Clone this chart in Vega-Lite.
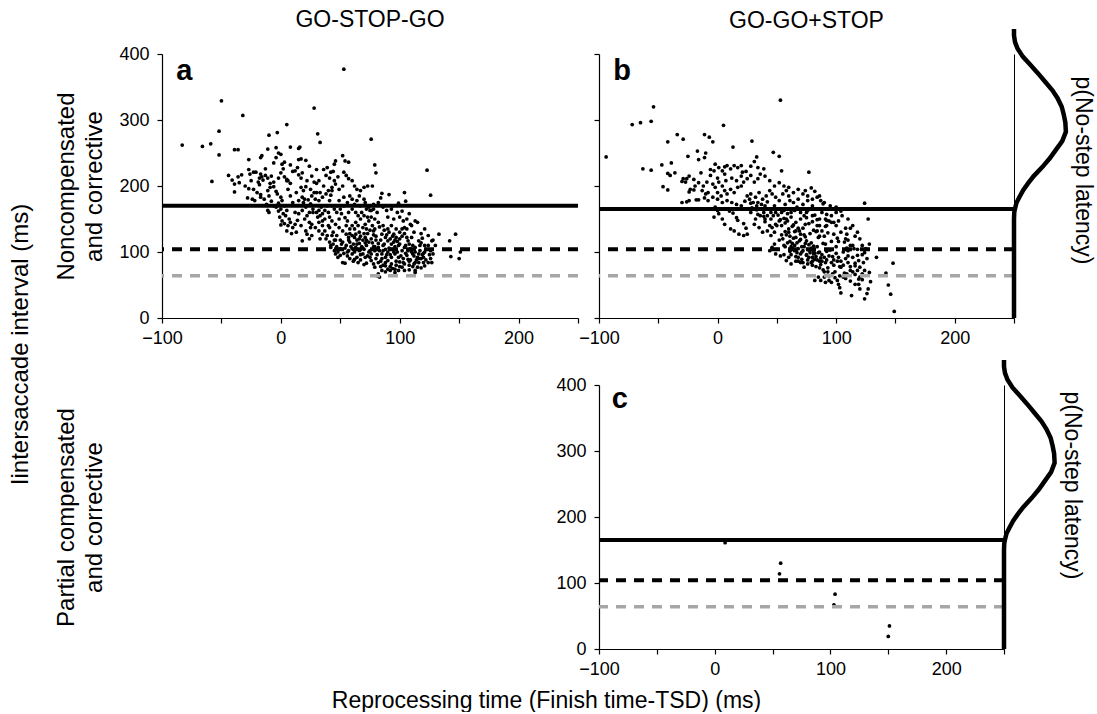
{
"$schema":"https://vega.github.io/schema/vega-lite/v6.json",
"autosize":{"type":"pad"},
"padding":{"left":8,"top":9,"right":2,"bottom":0},
"background":"white",
"title":{"text":"Iintersaccade interval (ms)","orient":"left","anchor":"middle","offset":22,"dx":16,"fontSize":24,"fontWeight":"normal"},
"config":{"view":{"stroke":null},"font":"Liberation Sans",
"title":{"font":"Liberation Sans","fontSize":23,"fontWeight":"normal","color":"black","offset":13},
"axis":{"domainColor":"black","domainWidth":1.2,"tickColor":"black","tickWidth":1.2,"tickSize":5,"labelFont":"Liberation Sans","labelFontSize":18,"labelColor":"black","titleFont":"Liberation Sans","titleFontSize":24,"titleFontWeight":"normal","titleColor":"black","grid":false,"labelFlush":false}},
"datasets":{
"a":[{"x":-83,"y":262},{"x":-66,"y":260},{"x":-59,"y":264},{"x":-50,"y":329},{"x":-52,"y":283},{"x":-52,"y":247},{"x":-58,"y":207},{"x":-32,"y":307},{"x":-39,"y":255},{"x":-36,"y":255},{"x":-44,"y":216},{"x":-41,"y":209},{"x":-39,"y":203},{"x":-36,"y":214},{"x":-33,"y":217},{"x":-39,"y":191},{"x":-27,"y":240},{"x":-27,"y":225},{"x":-26,"y":218},{"x":-23,"y":221},{"x":-21,"y":221},{"x":-27,"y":196},{"x":-25,"y":208},{"x":-18,"y":212},{"x":-28,"y":182},{"x":-24,"y":180},{"x":-22,"y":178},{"x":-17,"y":243},{"x":-16,"y":246},{"x":-11,"y":256},{"x":-10,"y":277},{"x":-3,"y":281},{"x":5,"y":293},{"x":-4,"y":258},{"x":-2,"y":250},{"x":-6,"y":235},{"x":-4,"y":243},{"x":-17,"y":218},{"x":-16,"y":214},{"x":-13,"y":216},{"x":-11,"y":212},{"x":-9,"y":204},{"x":-19,"y":206},{"x":-18,"y":202},{"x":-15,"y":209},{"x":-11,"y":193},{"x":-9,"y":198},{"x":-6,"y":199},{"x":-10,"y":185},{"x":-4,"y":192},{"x":-17,"y":187},{"x":-17,"y":183},{"x":-11,"y":163},{"x":-10,"y":160},{"x":0,"y":248},{"x":3,"y":236},{"x":1,"y":233},{"x":8,"y":259},{"x":15,"y":257},{"x":16,"y":259},{"x":15,"y":240},{"x":17,"y":241},{"x":21,"y":239},{"x":10,"y":222},{"x":12,"y":223},{"x":15,"y":217},{"x":17,"y":212},{"x":5,"y":210},{"x":6,"y":208},{"x":8,"y":204},{"x":0,"y":220},{"x":3,"y":214},{"x":5,"y":208},{"x":-3,"y":188},{"x":0,"y":183},{"x":1,"y":178},{"x":-2,"y":174},{"x":-4,"y":168},{"x":0,"y":165},{"x":3,"y":170},{"x":5,"y":163},{"x":-1,"y":153},{"x":1,"y":147},{"x":4,"y":155},{"x":7,"y":150},{"x":0,"y":141},{"x":3,"y":143},{"x":5,"y":132},{"x":8,"y":145},{"x":10,"y":137},{"x":12,"y":142},{"x":14,"y":148},{"x":12,"y":160},{"x":15,"y":158},{"x":18,"y":163},{"x":21,"y":168},{"x":15,"y":178},{"x":18,"y":183},{"x":19,"y":175},{"x":23,"y":179},{"x":25,"y":173},{"x":17,"y":198},{"x":19,"y":193},{"x":21,"y":199},{"x":25,"y":195},{"x":28,"y":190},{"x":24,"y":230},{"x":28,"y":318},{"x":31,"y":279},{"x":33,"y":266},{"x":28,"y":206},{"x":30,"y":204},{"x":32,"y":208},{"x":18,"y":117},{"x":22,"y":127},{"x":24,"y":120},{"x":26,"y":125},{"x":26,"y":142},{"x":29,"y":137},{"x":32,"y":145},{"x":31,"y":153},{"x":35,"y":158},{"x":37,"y":163},{"x":39,"y":170},{"x":41,"y":178},{"x":35,"y":183},{"x":38,"y":188},{"x":40,"y":193},{"x":43,"y":198},{"x":45,"y":208},{"x":32,"y":178},{"x":34,"y":168},{"x":32,"y":163},{"x":38,"y":216},{"x":41,"y":212},{"x":42,"y":221},{"x":39,"y":228},{"x":46,"y":238},{"x":45,"y":233},{"x":52,"y":246},{"x":54,"y":238},{"x":57,"y":236},{"x":53,"y":377},{"x":53,"y":221},{"x":55,"y":216},{"x":57,"y":211},{"x":60,"y":208},{"x":62,"y":200},{"x":64,"y":195},{"x":67,"y":193},{"x":70,"y":198},{"x":73,"y":200},{"x":46,"y":203},{"x":49,"y":195},{"x":52,"y":200},{"x":43,"y":193},{"x":49,"y":178},{"x":53,"y":183},{"x":56,"y":175},{"x":60,"y":180},{"x":64,"y":178},{"x":67,"y":170},{"x":71,"y":175},{"x":74,"y":168},{"x":76,"y":163},{"x":41,"y":153},{"x":43,"y":147},{"x":46,"y":142},{"x":49,"y":137},{"x":41,"y":137},{"x":52,"y":132},{"x":55,"y":127},{"x":57,"y":122},{"x":60,"y":125},{"x":63,"y":127},{"x":66,"y":130},{"x":69,"y":137},{"x":71,"y":142},{"x":74,"y":147},{"x":73,"y":153},{"x":70,"y":155},{"x":67,"y":150},{"x":52,"y":115},{"x":55,"y":110},{"x":57,"y":102},{"x":60,"y":97},{"x":63,"y":107},{"x":66,"y":102},{"x":69,"y":97},{"x":71,"y":92},{"x":74,"y":100},{"x":76,"y":87},{"x":48,"y":92},{"x":52,"y":84},{"x":54,"y":83},{"x":62,"y":89},{"x":70,"y":81},{"x":72,"y":83},{"x":38,"y":120},{"x":41,"y":115},{"x":42,"y":107},{"x":45,"y":102},{"x":46,"y":97},{"x":35,"y":127},{"x":32,"y":132},{"x":33,"y":120},{"x":25,"y":137},{"x":21,"y":132},{"x":24,"y":145},{"x":76,"y":271},{"x":79,"y":232},{"x":80,"y":220},{"x":77,"y":200},{"x":123,"y":224},{"x":126,"y":186},{"x":85,"y":189},{"x":91,"y":187},{"x":104,"y":190},{"x":84,"y":182},{"x":105,"y":177},{"x":99,"y":174},{"x":75,"y":163},{"x":78,"y":165},{"x":76,"y":153},{"x":81,"y":160},{"x":79,"y":150},{"x":82,"y":145},{"x":89,"y":163},{"x":93,"y":165},{"x":90,"y":153},{"x":95,"y":150},{"x":100,"y":153},{"x":103,"y":147},{"x":106,"y":150},{"x":109,"y":142},{"x":113,"y":147},{"x":115,"y":145},{"x":102,"y":135},{"x":104,"y":137},{"x":121,"y":135},{"x":133,"y":127},{"x":147,"y":127},{"x":142,"y":117},{"x":143,"y":93},{"x":150,"y":90},{"x":151,"y":100},{"x":124,"y":125},{"x":127,"y":117},{"x":121,"y":110},{"x":126,"y":102},{"x":128,"y":97},{"x":116,"y":117},{"x":118,"y":114},{"x":113,"y":107},{"x":116,"y":97},{"x":120,"y":92},{"x":110,"y":122},{"x":107,"y":117},{"x":109,"y":105},{"x":111,"y":97},{"x":107,"y":89},{"x":113,"y":84},{"x":124,"y":84},{"x":127,"y":84},{"x":121,"y":79},{"x":115,"y":77},{"x":102,"y":77},{"x":104,"y":82},{"x":99,"y":72},{"x":96,"y":69},{"x":90,"y":74},{"x":88,"y":79},{"x":85,"y":72},{"x":82,"y":67},{"x":79,"y":77},{"x":96,"y":97},{"x":99,"y":92},{"x":102,"y":102},{"x":104,"y":107},{"x":100,"y":112},{"x":85,"y":127},{"x":88,"y":122},{"x":90,"y":117},{"x":93,"y":112},{"x":82,"y":107},{"x":79,"y":102},{"x":76,"y":97},{"x":75,"y":92},{"x":85,"y":97},{"x":88,"y":92},{"x":90,"y":87},{"x":93,"y":82},{"x":82,"y":84},{"x":78,"y":82},{"x":86,"y":140},{"x":90,"y":135},{"x":95,"y":127},{"x":97,"y":122},{"x":81,"y":64},{"x":83,"y":62},{"x":113,"y":69},{"x":113,"y":72},{"x":108,"y":73},{"x":118,"y":76},{"x":35,"y":140},{"x":37,"y":132},{"x":39,"y":125},{"x":44,"y":130},{"x":47,"y":125},{"x":50,"y":118},{"x":44,"y":112},{"x":47,"y":108},{"x":50,"y":105},{"x":53,"y":98},{"x":56,"y":94},{"x":58,"y":90},{"x":61,"y":86},{"x":64,"y":92},{"x":65,"y":84},{"x":67,"y":88},{"x":58,"y":115},{"x":61,"y":112},{"x":64,"y":118},{"x":66,"y":113},{"x":68,"y":108},{"x":70,"y":104},{"x":72,"y":110},{"x":74,"y":115},{"x":76,"y":120},{"x":78,"y":126},{"x":80,"y":118},{"x":82,"y":113},{"x":84,"y":118},{"x":86,"y":110},{"x":88,"y":104},{"x":90,"y":100},{"x":92,"y":96},{"x":94,"y":104},{"x":96,"y":108},{"x":98,"y":116},{"x":100,"y":120},{"x":102,"y":124},{"x":104,"y":128},{"x":106,"y":122},{"x":108,"y":112},{"x":110,"y":100},{"x":112,"y":94},{"x":114,"y":88},{"x":116,"y":84},{"x":118,"y":90},{"x":120,"y":98},{"x":122,"y":104},{"x":124,"y":110},{"x":126,"y":90},{"x":80,"y":90},{"x":84,"y":86},{"x":86,"y":80},{"x":88,"y":84},{"x":92,"y":78},{"x":94,"y":75},{"x":97,"y":80},{"x":100,"y":85},{"x":103,"y":90},{"x":106,"y":95},{"x":108,"y":80},{"x":111,"y":78},{"x":117,"y":102},{"x":119,"y":121},{"x":97,"y":135},{"x":93,"y":140},{"x":91,"y":130},{"x":87,"y":133},{"x":83,"y":138},{"x":79,"y":135},{"x":77,"y":140},{"x":75,"y":133},{"x":73,"y":128},{"x":71,"y":122},{"x":69,"y":118},{"x":67,"y":124},{"x":65,"y":140},{"x":63,"y":145},{"x":60,"y":140},{"x":58,"y":135},{"x":56,"y":147},{"x":54,"y":152},{"x":51,"y":158},{"x":49,"y":150},{"x":47,"y":160},{"x":45,"y":165},{"x":43,"y":170},{"x":40,"y":160},{"x":37,"y":150},{"x":35,"y":147},{"x":33,"y":155},{"x":30,"y":160},{"x":27,"y":165},{"x":24,"y":160},{"x":22,"y":155},{"x":20,"y":150},{"x":17,"y":140},{"x":13,"y":130},{"x":9,"y":128},{"x":6,"y":140},{"x":2,"y":158},{"x":-2,"y":162},{"x":-6,"y":170},{"x":-8,"y":177},{"x":-12,"y":172},{"x":-14,"y":180},{"x":-20,"y":190},{"x":-23,"y":195},{"x":-30,"y":200},{"x":-35,"y":205},{"x":10,"y":175},{"x":8,"y":185},{"x":6,"y":195},{"x":13,"y":190},{"x":20,"y":180},{"x":26,"y":185},{"x":29,"y":180},{"x":33,"y":190},{"x":36,"y":200},{"x":42,"y":186},{"x":47,"y":170},{"x":50,"y":165},{"x":53,"y":170},{"x":57,"y":160},{"x":60,"y":165},{"x":63,"y":160},{"x":65,"y":155},{"x":68,"y":160},{"x":72,"y":165},{"x":78,"y":172},{"x":82,"y":175},{"x":86,"y":168},{"x":94,"y":170},{"x":98,"y":160},{"x":102,"y":162},{"x":108,"y":158},{"x":62,"y":172},{"x":58,"y":185},{"x":66,"y":185},{"x":70,"y":180},{"x":48,"y":214},{"x":44,"y":222},{"x":36,"y":225},{"x":30,"y":225},{"x":26,"y":215},{"x":22,"y":208},{"x":18,"y":220},{"x":14,"y":228},{"x":8,"y":232},{"x":2,"y":226},{"x":-2,"y":212},{"x":-6,"y":206},{"x":-8,"y":215},{"x":-13,"y":226},{"x":30,"y":190},{"x":27,"y":160},{"x":40,"y":140},{"x":55,"y":140},{"x":62,"y":135},{"x":72,"y":135},{"x":78,"y":108},{"x":92,"y":120},{"x":95,"y":115},{"x":98,"y":100},{"x":105,"y":98},{"x":125,"y":96},{"x":130,"y":110},{"x":128,"y":118},{"x":112,"y":130},{"x":118,"y":128},{"x":122,"y":88},{"x":42,"y":110},{"x":45,"y":118},{"x":48,"y":100},{"x":51,"y":112},{"x":54,"y":106},{"x":57,"y":118},{"x":59,"y":108},{"x":62,"y":100},{"x":64,"y":112},{"x":67,"y":96},{"x":69,"y":106},{"x":71,"y":114},{"x":73,"y":94},{"x":75,"y":102},{"x":77,"y":114},{"x":79,"y":108},{"x":81,"y":96},{"x":83,"y":102},{"x":85,"y":90},{"x":87,"y":112},{"x":89,"y":96},{"x":91,"y":106},{"x":93,"y":92},{"x":95,"y":100},{"x":97,"y":86},{"x":99,"y":110},{"x":101,"y":94},{"x":103,"y":84},{"x":105,"y":110},{"x":107,"y":102},{"x":109,"y":88},{"x":111,"y":110},{"x":113,"y":100},{"x":115,"y":92},{"x":117,"y":110},{"x":119,"y":96},{"x":121,"y":100},{"x":84,"y":78},{"x":88,"y":70},{"x":92,"y":72},{"x":96,"y":74},{"x":100,"y":78},{"x":104,"y":72},{"x":108,"y":86},{"x":112,"y":82},{"x":116,"y":90},{"x":120,"y":84},{"x":86,"y":102},{"x":80,"y":124},{"x":72,"y":118},{"x":66,"y":120},{"x":60,"y":105},{"x":56,"y":100},{"x":50,"y":95},{"x":46,"y":118},{"x":43,"y":125},{"x":58,"y":128},{"x":62,"y":122},{"x":70,"y":128},{"x":78,"y":132},{"x":94,"y":124},{"x":100,"y":130},{"x":106,"y":135},{"x":110,"y":140},{"x":96,"y":118},{"x":89,"y":126}],
"b":[{"x":-94,"y":244},{"x":-72,"y":293},{"x":-65,"y":296},{"x":-56,"y":298},{"x":-54,"y":320},{"x":-63,"y":226},{"x":-56,"y":224},{"x":-47,"y":232},{"x":-39,"y":235},{"x":-42,"y":267},{"x":-34,"y":278},{"x":-29,"y":271},{"x":-42,"y":219},{"x":-40,"y":216},{"x":-36,"y":220},{"x":-46,"y":199},{"x":-42,"y":194},{"x":-29,"y":211},{"x":-27,"y":206},{"x":-30,"y":207},{"x":-25,"y":245},{"x":-17,"y":253},{"x":-16,"y":240},{"x":-10,"y":250},{"x":-11,"y":243},{"x":-11,"y":278},{"x":-7,"y":274},{"x":-4,"y":267},{"x":5,"y":292},{"x":13,"y":259},{"x":29,"y":268},{"x":33,"y":244},{"x":31,"y":237},{"x":47,"y":251},{"x":52,"y":245},{"x":53,"y":330},{"x":54,"y":223},{"x":-26,"y":211},{"x":-23,"y":195},{"x":-24,"y":191},{"x":-19,"y":200},{"x":-20,"y":194},{"x":-30,"y":175},{"x":-26,"y":176},{"x":-24,"y":178},{"x":-18,"y":179},{"x":-16,"y":179},{"x":-13,"y":193},{"x":-10,"y":188},{"x":-11,"y":182},{"x":-8,"y":178},{"x":-9,"y":206},{"x":-6,"y":216},{"x":-3,"y":223},{"x":-2,"y":233},{"x":1,"y":228},{"x":4,"y":223},{"x":6,"y":229},{"x":8,"y":231},{"x":11,"y":226},{"x":14,"y":231},{"x":17,"y":228},{"x":20,"y":231},{"x":21,"y":221},{"x":-4,"y":203},{"x":-2,"y":198},{"x":1,"y":206},{"x":4,"y":200},{"x":7,"y":208},{"x":0,"y":190},{"x":3,"y":185},{"x":6,"y":193},{"x":8,"y":188},{"x":11,"y":195},{"x":14,"y":190},{"x":17,"y":198},{"x":20,"y":200},{"x":22,"y":206},{"x":25,"y":211},{"x":28,"y":216},{"x":31,"y":206},{"x":34,"y":211},{"x":36,"y":218},{"x":39,"y":226},{"x":-2,"y":168},{"x":0,"y":163},{"x":1,"y":158},{"x":-3,"y":153},{"x":4,"y":150},{"x":6,"y":142},{"x":10,"y":162},{"x":13,"y":159},{"x":16,"y":152},{"x":17,"y":148},{"x":22,"y":143},{"x":24,"y":136},{"x":17,"y":165},{"x":11,"y":135},{"x":14,"y":132},{"x":18,"y":127},{"x":22,"y":125},{"x":25,"y":127},{"x":23,"y":177},{"x":28,"y":174},{"x":29,"y":167},{"x":33,"y":164},{"x":34,"y":157},{"x":39,"y":154},{"x":40,"y":146},{"x":28,"y":188},{"x":32,"y":183},{"x":35,"y":190},{"x":41,"y":185},{"x":44,"y":193},{"x":46,"y":188},{"x":49,"y":183},{"x":52,"y":178},{"x":55,"y":188},{"x":58,"y":193},{"x":60,"y":198},{"x":31,"y":142},{"x":35,"y":137},{"x":38,"y":130},{"x":42,"y":132},{"x":45,"y":125},{"x":46,"y":137},{"x":49,"y":142},{"x":52,"y":147},{"x":56,"y":163},{"x":59,"y":158},{"x":62,"y":153},{"x":65,"y":163},{"x":67,"y":168},{"x":70,"y":160},{"x":73,"y":155},{"x":76,"y":163},{"x":52,"y":118},{"x":56,"y":110},{"x":57,"y":108},{"x":61,"y":101},{"x":62,"y":96},{"x":66,"y":93},{"x":68,"y":86},{"x":72,"y":84},{"x":46,"y":107},{"x":49,"y":97},{"x":44,"y":102},{"x":73,"y":77},{"x":76,"y":82},{"x":58,"y":87},{"x":62,"y":82},{"x":53,"y":94},{"x":77,"y":221},{"x":74,"y":193},{"x":79,"y":197},{"x":82,"y":192},{"x":84,"y":183},{"x":87,"y":178},{"x":89,"y":173},{"x":124,"y":174},{"x":127,"y":150},{"x":105,"y":155},{"x":102,"y":147},{"x":98,"y":145},{"x":94,"y":147},{"x":91,"y":150},{"x":108,"y":136},{"x":112,"y":136},{"x":116,"y":124},{"x":109,"y":127},{"x":134,"y":92},{"x":148,"y":83},{"x":142,"y":68},{"x":144,"y":50},{"x":146,"y":36},{"x":149,"y":10},{"x":124,"y":29},{"x":126,"y":37},{"x":127,"y":44},{"x":120,"y":44},{"x":119,"y":51},{"x":113,"y":34},{"x":104,"y":38},{"x":103,"y":46},{"x":102,"y":51},{"x":116,"y":51},{"x":119,"y":59},{"x":122,"y":67},{"x":124,"y":72},{"x":128,"y":69},{"x":129,"y":55},{"x":109,"y":67},{"x":112,"y":72},{"x":106,"y":62},{"x":101,"y":57},{"x":96,"y":54},{"x":94,"y":57},{"x":91,"y":54},{"x":87,"y":57},{"x":82,"y":57},{"x":85,"y":62},{"x":110,"y":102},{"x":115,"y":105},{"x":119,"y":87},{"x":123,"y":84},{"x":120,"y":77},{"x":124,"y":99},{"x":116,"y":79},{"x":77,"y":143},{"x":81,"y":133},{"x":83,"y":131},{"x":85,"y":122},{"x":86,"y":124},{"x":89,"y":113},{"x":91,"y":112},{"x":92,"y":101},{"x":95,"y":103},{"x":97,"y":93},{"x":98,"y":88},{"x":101,"y":86},{"x":103,"y":78},{"x":104,"y":77},{"x":107,"y":68},{"x":75,"y":152},{"x":80,"y":146},{"x":84,"y":149},{"x":86,"y":140},{"x":91,"y":139},{"x":93,"y":129},{"x":98,"y":127},{"x":101,"y":121},{"x":102,"y":116},{"x":107,"y":115},{"x":109,"y":106},{"x":110,"y":94},{"x":114,"y":92},{"x":116,"y":83},{"x":74,"y":123},{"x":79,"y":114},{"x":81,"y":109},{"x":81,"y":101},{"x":85,"y":99},{"x":87,"y":91},{"x":88,"y":86},{"x":91,"y":84},{"x":93,"y":76},{"x":93,"y":70},{"x":97,"y":67},{"x":99,"y":61},{"x":69,"y":132},{"x":73,"y":126},{"x":75,"y":117},{"x":77,"y":111},{"x":77,"y":103},{"x":81,"y":97},{"x":83,"y":93},{"x":84,"y":88},{"x":87,"y":81},{"x":89,"y":73},{"x":90,"y":70},{"x":64,"y":141},{"x":68,"y":136},{"x":70,"y":127},{"x":70,"y":119},{"x":74,"y":113},{"x":76,"y":104},{"x":78,"y":99},{"x":80,"y":92},{"x":82,"y":89},{"x":83,"y":78},{"x":86,"y":76},{"x":59,"y":147},{"x":63,"y":139},{"x":65,"y":131},{"x":66,"y":122},{"x":69,"y":117},{"x":71,"y":108},{"x":72,"y":102},{"x":75,"y":95},{"x":76,"y":88},{"x":79,"y":84},{"x":80,"y":80},{"x":56,"y":151},{"x":57,"y":144},{"x":60,"y":135},{"x":61,"y":124},{"x":64,"y":121},{"x":65,"y":110},{"x":68,"y":105},{"x":70,"y":97},{"x":71,"y":89},{"x":51,"y":156},{"x":53,"y":149},{"x":54,"y":140},{"x":57,"y":131},{"x":58,"y":126},{"x":61,"y":116},{"x":63,"y":113},{"x":63,"y":106},{"x":67,"y":99},{"x":68,"y":92},{"x":45,"y":160},{"x":47,"y":155},{"x":49,"y":160},{"x":43,"y":165},{"x":40,"y":170},{"x":37,"y":172},{"x":33,"y":170},{"x":30,"y":175},{"x":27,"y":180},{"x":25,"y":185},{"x":45,"y":150},{"x":42,"y":155},{"x":39,"y":160},{"x":36,"y":165},{"x":34,"y":175},{"x":38,"y":180},{"x":42,"y":176},{"x":48,"y":170},{"x":53,"y":165},{"x":57,"y":172},{"x":61,"y":178},{"x":64,"y":175},{"x":68,"y":180},{"x":72,"y":172},{"x":76,"y":178},{"x":80,"y":170},{"x":85,"y":165},{"x":88,"y":160},{"x":92,"y":157},{"x":96,"y":155},{"x":100,"y":160},{"x":104,"y":162},{"x":110,"y":150},{"x":114,"y":140},{"x":118,"y":130},{"x":120,"y":120},{"x":122,"y":110},{"x":125,"y":105},{"x":128,"y":112},{"x":126,"y":90},{"x":118,"y":95},{"x":112,"y":110},{"x":108,"y":120},{"x":104,"y":130},{"x":100,"y":140},{"x":96,"y":145},{"x":92,"y":140},{"x":88,"y":132},{"x":84,"y":140},{"x":80,"y":155},{"x":75,"y":160},{"x":70,"y":150},{"x":66,"y":145},{"x":62,"y":160},{"x":58,"y":150},{"x":54,"y":160},{"x":50,"y":140},{"x":48,"y":130},{"x":44,"y":140},{"x":40,"y":150},{"x":36,"y":155},{"x":32,"y":150},{"x":28,"y":160},{"x":24,"y":165},{"x":20,"y":170},{"x":16,"y":172},{"x":12,"y":175},{"x":8,"y":178},{"x":4,"y":175},{"x":0,"y":180},{"x":-4,"y":183},{"x":-8,"y":190},{"x":-12,"y":200},{"x":-16,"y":205},{"x":-20,"y":210},{"x":-24,"y":215},{"x":-14,"y":220},{"x":-6,"y":225},{"x":0,"y":212},{"x":6,"y":218},{"x":12,"y":212},{"x":16,"y":208},{"x":20,"y":215},{"x":24,"y":222},{"x":28,"y":230},{"x":34,"y":228},{"x":40,"y":215},{"x":44,"y":208},{"x":48,"y":200},{"x":52,"y":205},{"x":56,"y":200},{"x":60,"y":185},{"x":64,"y":190},{"x":68,"y":195},{"x":72,"y":188},{"x":76,"y":185},{"x":80,"y":180},{"x":86,"y":185},{"x":90,"y":175},{"x":95,"y":170},{"x":100,"y":168},{"x":105,"y":165},{"x":55,"y":120},{"x":59,"y":114},{"x":62,"y":108},{"x":65,"y":102},{"x":67,"y":114},{"x":71,"y":100},{"x":73,"y":108},{"x":75,"y":96},{"x":77,"y":92},{"x":79,"y":106},{"x":82,"y":98},{"x":84,"y":108},{"x":86,"y":100},{"x":88,"y":96},{"x":90,"y":92},{"x":92,"y":88},{"x":94,"y":94},{"x":96,"y":84},{"x":98,"y":80},{"x":100,"y":98},{"x":102,"y":92},{"x":104,"y":86},{"x":106,"y":80},{"x":108,"y":90},{"x":110,"y":84},{"x":112,"y":78},{"x":114,"y":70},{"x":116,"y":66},{"x":118,"y":72},{"x":120,"y":62},{"x":122,"y":58},{"x":90,"y":62},{"x":94,"y":64},{"x":99,"y":70},{"x":103,"y":64},{"x":108,"y":60},{"x":112,"y":56},{"x":86,"y":86},{"x":80,"y":86},{"x":70,"y":84},{"x":66,"y":86},{"x":60,"y":92},{"x":56,"y":96},{"x":50,"y":104},{"x":48,"y":112},{"x":54,"y":126},{"x":60,"y":130},{"x":66,"y":132},{"x":72,"y":136},{"x":78,"y":128},{"x":84,"y":132},{"x":90,"y":124},{"x":96,"y":116},{"x":100,"y":108},{"x":106,"y":100},{"x":110,"y":118},{"x":114,"y":110},{"x":118,"y":104},{"x":122,"y":96},{"x":86,"y":150},{"x":92,"y":148},{"x":82,"y":156},{"x":74,"y":142}],
"c":[{"x":9,"y":161},{"x":57,"y":130},{"x":56,"y":114},{"x":104,"y":83},{"x":103,"y":67},{"x":151,"y":35},{"x":150,"y":19}],
"dens":[{"lat":0,"d":0},{"lat":150,"d":0},{"lat":160,"d":0.005},{"lat":166,"d":0.02},{"lat":175,"d":0.05},{"lat":184,"d":0.11},{"lat":194,"d":0.18},{"lat":204,"d":0.27},{"lat":215,"d":0.38},{"lat":229,"d":0.55},{"lat":242,"d":0.69},{"lat":254,"d":0.8},{"lat":268,"d":0.93},{"lat":282,"d":1.0},{"lat":296,"d":0.99},{"lat":308,"d":0.96},{"lat":320,"d":0.92},{"lat":333,"d":0.84},{"lat":345,"d":0.74},{"lat":358,"d":0.6},{"lat":371,"d":0.46},{"lat":384,"d":0.31},{"lat":396,"d":0.17},{"lat":408,"d":0.07},{"lat":418,"d":0.02},{"lat":428,"d":0.0},{"lat":438,"d":0.0}]
},
"concat":[
{"title":{"text":"GO-STOP-GO","offset":13},"width":416,"height":264,
 "layer":[
  {"data":{"name":"a"},"mark":{"type":"circle","size":14,"color":"black","opacity":1},
   "encoding":{"x":{"field":"x","type":"quantitative","scale":{"domain":[-100,250]},"axis":{"values":[-100,-50,0,50,100,150,200,250],"labelExpr":"datum.value % 100 === 0 ? datum.label : ''","labelPadding":6,"title":null}},
   "y":{"field":"y","type":"quantitative","scale":{"domain":[0,400]},"axis":{"values":[0,50,100,150,200,250,300,350,400],"labelExpr":"datum.value % 100 === 0 ? datum.label : ''","labelPadding":8,"title":["Noncompensated","and corrective"],"titleLineHeight":28,"titlePadding":12}}}},
  {"data":{"values":[{"y":170}]},"mark":{"type":"rule","color":"black","strokeWidth":4},"encoding":{"y":{"field":"y","type":"quantitative"}}},
  {"data":{"values":[{"y":104}]},"mark":{"type":"rule","color":"black","strokeWidth":4,"strokeDash":[10,8]},"encoding":{"y":{"field":"y","type":"quantitative"}}},
  {"data":{"values":[{"y":64}]},"mark":{"type":"rule","color":"#a6a6a6","strokeWidth":3.5,"strokeDash":[10,8]},"encoding":{"y":{"field":"y","type":"quantitative"}}},
  {"data":{"values":[{"x":-88,"y":360,"t":"a"}]},"mark":{"type":"text","align":"left","baseline":"alphabetic","fontSize":29,"fontWeight":"bold","color":"black"},"encoding":{"x":{"field":"x","type":"quantitative"},"y":{"field":"y","type":"quantitative"},"text":{"field":"t"}}}
 ]},
{"title":{"text":"GO-GO+STOP","offset":-13},"width":415,"height":264,
 "layer":[
  {"layer":[
   {"data":{"name":"b"},"mark":{"type":"circle","size":14,"color":"black","opacity":1},
    "encoding":{"x":{"field":"x","type":"quantitative","scale":{"domain":[-100,250]},"axis":{"values":[-100,-50,0,50,100,150,200,250],"labelExpr":"datum.value % 100 === 0 ? datum.label : ''","labelPadding":6,"title":null}},
    "y":{"field":"y","type":"quantitative","scale":{"domain":[0,400]},"axis":{"values":[0,50,100,150,200,250,300,350,400],"labels":false,"title":null}}}},
   {"data":{"values":[{"y":165}]},"mark":{"type":"rule","color":"black","strokeWidth":4},"encoding":{"y":{"field":"y","type":"quantitative"}}},
   {"data":{"values":[{"y":104}]},"mark":{"type":"rule","color":"black","strokeWidth":4,"strokeDash":[10,8]},"encoding":{"y":{"field":"y","type":"quantitative"}}},
   {"data":{"values":[{"y":64}]},"mark":{"type":"rule","color":"#a6a6a6","strokeWidth":3.5,"strokeDash":[10,8]},"encoding":{"y":{"field":"y","type":"quantitative"}}},
   {"data":{"values":[{"x":-88,"y":360,"t":"b"}]},"mark":{"type":"text","align":"left","baseline":"alphabetic","fontSize":29,"fontWeight":"bold","color":"black"},"encoding":{"x":{"field":"x","type":"quantitative"},"y":{"field":"y","type":"quantitative"},"text":{"field":"t"}}}
  ]},
  {"data":{"name":"dens"},"mark":{"type":"line","color":"black","strokeWidth":4.5,"clip":false},
   "encoding":{"x":{"field":"d","type":"quantitative","scale":{"domain":[-8,0]},"axis":null},
   "y":{"field":"lat","type":"quantitative","scale":{"domain":[0,400]},"axis":{"orient":"right","labels":false,"ticks":false,"domain":true,"domainWidth":1,"title":"p(No-step latency)","titleFontSize":23,"titleAngle":90,"titleAlign":"center","titleBaseline":"middle","titleX":68,"titleY":116}},
   "order":{"field":"lat","type":"quantitative"}}}
 ],
 "resolve":{"scale":{"x":"independent","y":"independent"}}},
{"width":416,"height":264,
 "data":{"values":[{"y":0}]},
 "mark":{"type":"point","opacity":0},
 "encoding":{"y":{"field":"y","type":"quantitative","scale":{"domain":[0,400]},"axis":{"values":[0,100,200,300,400],"labelPadding":8,"labelOpacity":0,"tickOpacity":0,"domainOpacity":0,"title":["Partial compensated","and corrective"],"titleLineHeight":28,"titlePadding":12}}}},
{"width":405,"height":264,
 "layer":[
  {"layer":[
   {"data":{"name":"c"},"mark":{"type":"circle","size":14,"color":"black","opacity":1},
    "encoding":{"x":{"field":"x","type":"quantitative","scale":{"domain":[-100,250]},"axis":{"values":[-100,-50,0,50,100,150,200,250],"labelExpr":"datum.value % 100 === 0 ? datum.label : ''","labelPadding":6,"title":"Reprocessing time (Finish time-TSD) (ms)","titleFontSize":23,"titleX":-53,"titleY":51,"titleBaseline":"middle","titleAlign":"center"}},
    "y":{"field":"y","type":"quantitative","scale":{"domain":[0,400]},"axis":{"values":[0,50,100,150,200,250,300,350,400],"labelExpr":"datum.value % 100 === 0 ? datum.label : ''","labelPadding":8,"title":null}}}},
   {"data":{"values":[{"y":165}]},"mark":{"type":"rule","color":"black","strokeWidth":4},"encoding":{"y":{"field":"y","type":"quantitative"}}},
   {"data":{"values":[{"y":104}]},"mark":{"type":"rule","color":"black","strokeWidth":4,"strokeDash":[10,8]},"encoding":{"y":{"field":"y","type":"quantitative"}}},
   {"data":{"values":[{"y":64}]},"mark":{"type":"rule","color":"#a6a6a6","strokeWidth":3.5,"strokeDash":[10,8]},"encoding":{"y":{"field":"y","type":"quantitative"}}},
   {"data":{"values":[{"x":-89,"y":365,"t":"c"}]},"mark":{"type":"text","align":"left","baseline":"alphabetic","fontSize":29,"fontWeight":"bold","color":"black"},"encoding":{"x":{"field":"x","type":"quantitative"},"y":{"field":"y","type":"quantitative"},"text":{"field":"t"}}}
  ]},
  {"data":{"name":"dens"},"mark":{"type":"line","color":"black","strokeWidth":4.5,"clip":false},
   "encoding":{"x":{"field":"d","type":"quantitative","scale":{"domain":[-8,0]},"axis":null},
   "y":{"field":"lat","type":"quantitative","scale":{"domain":[0,400]},"axis":{"orient":"right","labels":false,"ticks":false,"domain":true,"domainWidth":1,"title":"p(No-step latency)","titleFontSize":23,"titleAngle":90,"titleAlign":"center","titleBaseline":"middle","titleX":67,"titleY":100}},
   "order":{"field":"lat","type":"quantitative"}}}
 ],
 "resolve":{"scale":{"x":"independent","y":"independent"}}}
],
"columns":2,
"bounds":"flush",
"spacing":{"row":67,"column":21}
}
